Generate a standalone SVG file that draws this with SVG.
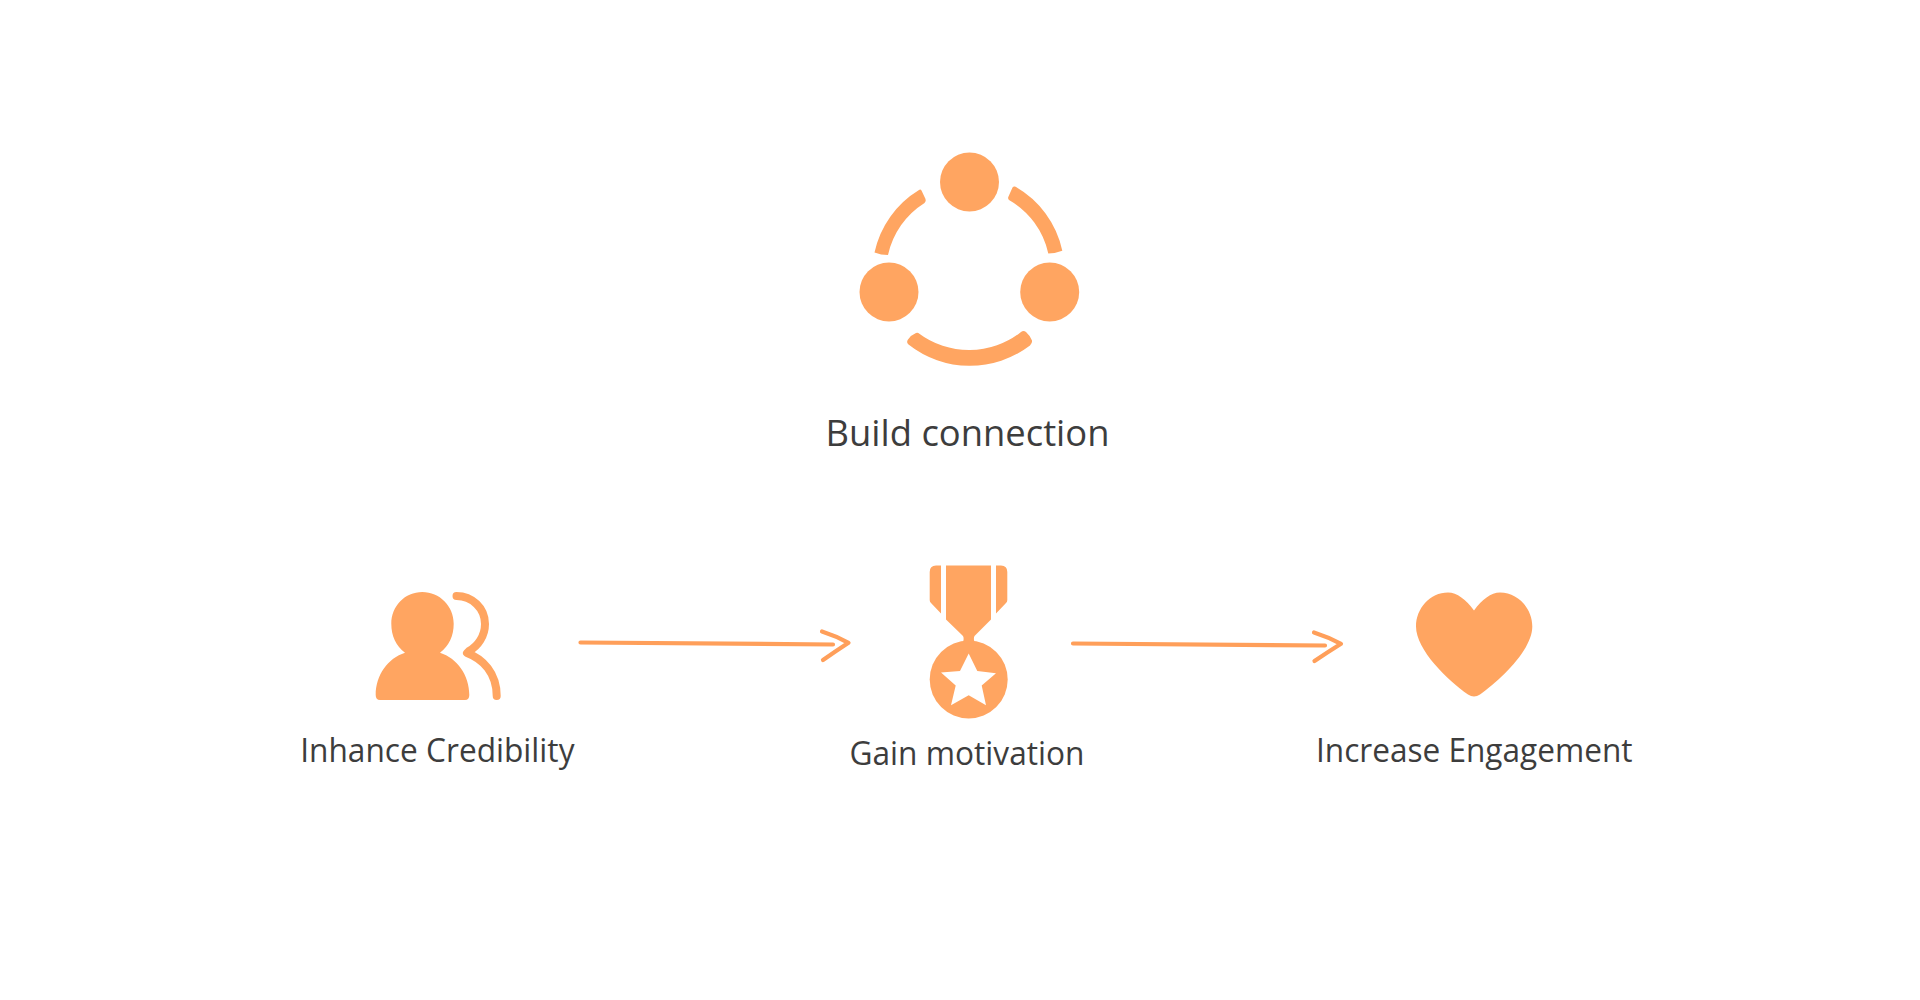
<svg xmlns="http://www.w3.org/2000/svg" width="1920" height="1000" viewBox="0 0 1920 1000">
<style>
.f{fill:#FFA561}
.s{fill:none;stroke:#FFA561;stroke-linecap:round;stroke-linejoin:round}
.c{fill:none;stroke:#FF9F5A;stroke-width:4.2;stroke-linecap:round;stroke-linejoin:round}
text{font-family:"Open Sans","Noto Sans","Liberation Sans",sans-serif;fill:#3d3d3d;font-size:33px}
</style>
<rect width="1920" height="1000" fill="#fff"/>
<g id="node-build-connection">
<circle class="f" cx="969.5" cy="182" r="29.5"/>
<circle class="f" cx="889" cy="292" r="29.5"/>
<circle class="f" cx="1049.7" cy="292" r="29.5"/>
<path class="f" d="M919,190 Q920.5,189 921.5,190.5 L925.5,199 Q926.5,201.5 924.5,203 A82 82 0 0 0 888,255 Q881,255 874.5,252.5 A97 97 0 0 1 919,190Z"/>
<path class="f" d="M1015,186.5 A97 97 0 0 1 1062.3,250.7 Q1055,253.5 1048.3,253.5 A82 82 0 0 0 1009,200 Q1007.5,198.5 1008.5,196.5 L1012.5,187.5 Q1013.5,186 1015,186.5Z"/>
<path class="f" d="M918.3,333 A84 84 0 0 0 1021,332 Q1023.5,330 1026,332 Q1030,335.5 1032,340.5 Q1032.5,343 1030,345.5 A99 99 0 0 1 908.5,344.5 Q906,342.5 908,339.5 Q911,335 916,333 Q917.5,332.5 918.3,333Z"/>
<text x="825.5" y="446" style="font-size:37px" textLength="284" lengthAdjust="spacingAndGlyphs">Build connection</text>
</g>
<g id="node-inhance-credibility">
<path class="f" d="M422.3,592 C439.5,592 453.7,606 453.7,623.7 C453.7,636 449,646 440,652.7 C457,658 469.3,675 469.3,695 Q469.3,700 465,700 L380,700 Q375.7,700 375.7,695 C375.7,675 388,658 405,652.7 C396,646 391.3,636 391.3,623.7 C391.3,606 405,592 422.3,592Z"/>
<path class="s" stroke-width="8" d="M456.5,596 C472,596 485,608 485,624 C485,636 478,646 469,651 L467,653 C483,659 496.7,673 496.7,696"/>
<text x="300.2" y="761.7" textLength="274.3" lengthAdjust="spacingAndGlyphs">Inhance Credibility</text>
</g>
<g id="node-gain-motivation">
<path class="f" d="M941,565.5 L936,565.5 Q929.7,565.5 929.7,572 L929.7,600 Q929.7,602 931,603 L941,613.5Z"/>
<path class="f" d="M996,565.5 L1001,565.5 Q1007.3,565.5 1007.3,572 L1007.3,600 Q1007.3,602 1006,603 L996,613.5Z"/>
<path class="f" d="M946,565.5 L991,565.5 L991,619.5 L974.5,636 Q973,639 975,643 L962.5,643 Q964.5,639 963,636 L946,619.5Z"/>
<circle class="f" cx="968.7" cy="679.5" r="39"/>
<polygon fill="#fff" points="968.7,653.5 977.3,671 996,673.3 981.7,685.6 986,705.3 968.7,695.3 951,705.3 955.7,685.6 941,672.6 960,671"/>
<text x="849.5" y="765" textLength="235" lengthAdjust="spacingAndGlyphs">Gain motivation</text>
</g>
<g id="node-increase-engagement">
<path class="f" d="M1474,610.5 C1482,599.5 1491,592.5 1500,592.5 C1518,592.5 1532.3,608.5 1532.3,626.5 C1532.3,650 1500,680.5 1480,694.5 Q1474,698.5 1468,694.5 C1448,680.5 1416,650 1416,626.5 C1416,608.5 1430,592.5 1448,592.5 C1457,592.5 1466,599.5 1474,610.5Z"/>
<text x="1316" y="761.7" textLength="316.5" lengthAdjust="spacingAndGlyphs">Increase Engagement</text>
</g>
<g id="connectors">
<path class="c" d="M580.5,642.5 L833,644.5"/>
<path class="c" d="M822,631.5 Q836,636 848.5,642.8 Q836,651 823,660"/>
<path class="c" d="M1073,643.5 L1325,645.5"/>
<path class="c" d="M1314,632.5 Q1328,637 1341,643.8 Q1328,652 1314.5,661"/>
</g>
</svg>
